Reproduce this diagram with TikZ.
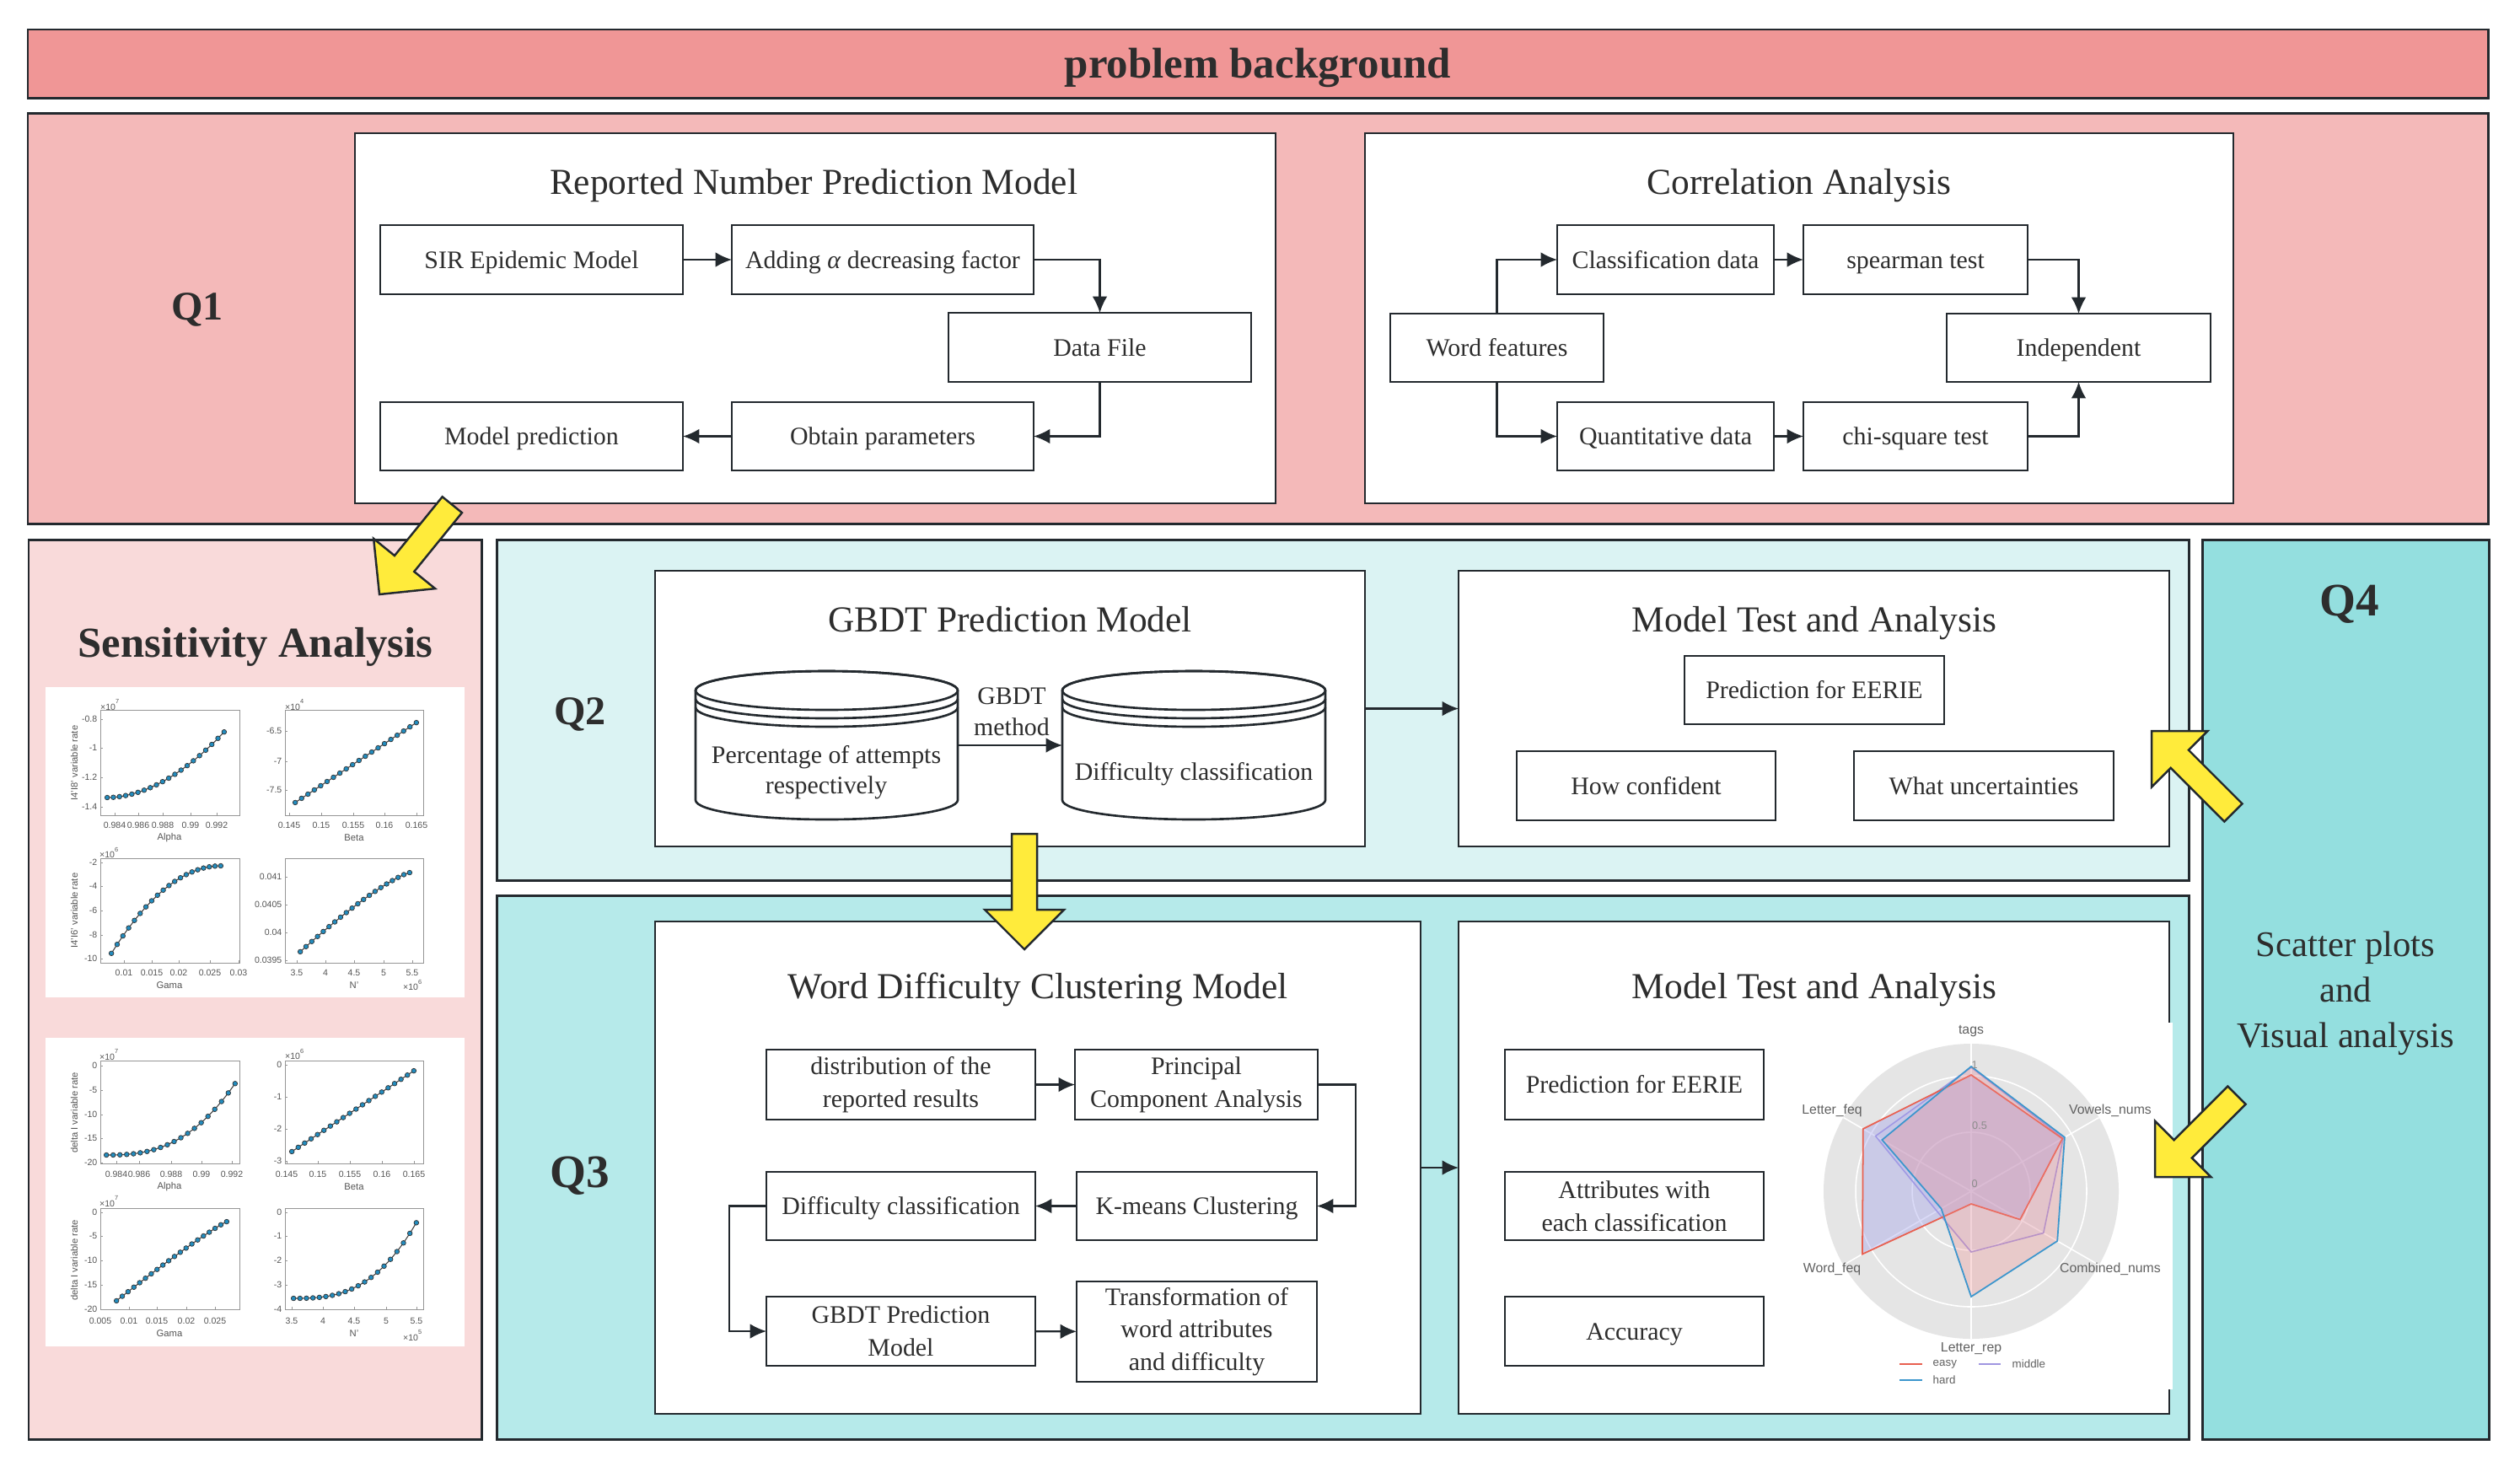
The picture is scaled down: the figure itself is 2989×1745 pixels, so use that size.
\documentclass[tikz,border=0pt]{standalone}
\usepackage{fontspec}
\setmainfont{Liberation Serif}
\setsansfont{Liberation Sans}
\usetikzlibrary{arrows.meta}
\definecolor{bordc}{RGB}{35,41,46}
\definecolor{txtc}{RGB}{45,45,45}
\definecolor{bgtitle}{RGB}{240,150,150}
\definecolor{qonec}{RGB}{244,185,185}
\definecolor{sensc}{RGB}{249,218,218}
\definecolor{qtwoc}{RGB}{219,243,243}
\definecolor{qthreec}{RGB}{182,234,234}
\definecolor{qfourc}{RGB}{148,223,223}
\definecolor{yelc}{RGB}{255,235,59}
\definecolor{radarbg}{RGB}{229,229,229}
\definecolor{easyc}{RGB}{232,96,80}
\definecolor{hardc}{RGB}{60,150,205}
\definecolor{midc}{RGB}{160,150,225}
\definecolor{easyfill}{RGB}{160,160,235}
\definecolor{hardfill}{RGB}{240,140,140}
\definecolor{markc}{RGB}{35,140,190}
\definecolor{axcol}{RGB}{150,150,150}
\definecolor{tkcol}{RGB}{85,85,85}
\newcounter{nc}
\tikzset{
  panel/.style={draw=bordc, line width=0.85pt, inner sep=0pt, outer sep=0pt},
  box/.style={draw=bordc, line width=0.75pt, fill=white, text=txtc, inner sep=0pt, outer sep=0pt, align=center, font=\fontsize{8.5}{11}\selectfont},
  sl/.style={text height=7.57pt, text depth=1.84pt},
  ttl/.style={text=txtc, inner sep=0pt, font=\fontsize{12.35}{15}\selectfont, text height=11pt, text depth=2.67pt},
  qlab/.style={text=txtc, inner sep=0pt, font=\bfseries\fontsize{13.7}{16}\selectfont, text height=12.2pt, text depth=2.96pt},
  qlabb/.style={text=txtc, inner sep=0pt, font=\bfseries\fontsize{15.7}{18}\selectfont, text height=14pt, text depth=3.39pt},
  conn/.style={draw=bordc, line width=0.6pt, -{Latex[length=5.5pt,width=5pt]}},
  yarr/.style={draw=bordc, line width=0.7pt, fill=yelc, line join=miter},
  axc/.style={draw=axcol, line width=0.25pt},
  tkl/.style={text=tkcol, inner sep=0pt, font=\sffamily\fontsize{3}{3.5}\selectfont},
  xl/.style={text=tkcol, inner sep=0pt, font=\sffamily\fontsize{3.2}{3.7}\selectfont},
  dline/.style={draw=black!75, line width=0.3pt},
  rlab/.style={text=black!62, inner sep=0pt, font=\sffamily\fontsize{4.5}{5}\selectfont},
  rtk/.style={text=black!45, inner sep=0pt, font=\sffamily\fontsize{3.6}{4}\selectfont},
  leg/.style={text=black!62, inner sep=0pt, font=\sffamily\fontsize{3.8}{4.2}\selectfont}
}
% rectangle node from corners: style, x1, y1, x2, y2, name, text
\newcommand\rnode[7]{\node[#1, minimum width={(#4-#2)*0.01cm}, minimum height={(#5-#3)*0.01cm}] (#6) at ({(#2+#4)/2},{(#3+#5)/2}) {#7};}
% y tick: x of left axis, y, label
\newcommand\sytk[3]{\stepcounter{nc}\draw[axc] (#1,#2) -- ++(3,0); \node[tkl,anchor=east] (k\arabic{nc}) at ({#1-3},#2) {#3};}
% x tick: x, axis y, label y, label
\newcommand\sxtk[4]{\stepcounter{nc}\draw[axc] (#1,#2) -- ++(0,-3); \node[tkl] (k\arabic{nc}) at (#1,#3) {#4};}
% data: x0 x1 y0 y1 k mode
\newcommand\sdata[6]{%
  \ifnum#6=0
    \draw[dline] plot[domain=0.001:0.999, samples=20, mark=*, mark size=0.8pt, mark options={fill=markc, draw=black!80, line width=0.2pt}] ({#1+(#2-#1)*\x},{#3+(#4-#3)*(\x)^(#5)});
  \else
    \draw[dline] plot[domain=0.001:0.999, samples=20, mark=*, mark size=0.8pt, mark options={fill=markc, draw=black!80, line width=0.2pt}] ({#1+(#2-#1)*\x},{#3+(#4-#3)*(1-(1-\x)^(#5))});
  \fi}
% yellow block arrow: tip x, tip y, unit direction dx, dy (pixel coords, y down)
\newcommand\yarrow[4]{\draw[yarr] (#1,#2) -- ({#1-47*(#3)-47*(#4)},{#2-47*(#4)+47*(#3)}) -- ({#1-47*(#3)-15*(#4)},{#2-47*(#4)+15*(#3)}) -- ({#1-137*(#3)-15*(#4)},{#2-137*(#4)+15*(#3)}) -- ({#1-137*(#3)+15*(#4)},{#2-137*(#4)-15*(#3)}) -- ({#1-47*(#3)+15*(#4)},{#2-47*(#4)-15*(#3)}) -- ({#1-47*(#3)+47*(#4)},{#2-47*(#4)-47*(#3)}) -- cycle;}
% cylinder: left x, right x, top centre y, bottom centre y
\newcommand\cyl[4]{%
  \draw[bordc, line width=0.75pt, fill=white] (#1,#3) -- (#1,#4) arc[start angle=180, end angle=0, x radius={(#2-#1)/2}, y radius=23] -- (#2,#3) arc[start angle=0, end angle=-180, x radius={(#2-#1)/2}, y radius=23] -- cycle;
  \draw[bordc, line width=0.75pt] ({(#1+#2)/2},#3) ellipse[x radius={(#2-#1)/2}, y radius=23];
  \draw[bordc, line width=0.75pt] (#1,{#3+10}) arc[start angle=180, end angle=0, x radius={(#2-#1)/2}, y radius=23];
  \draw[bordc, line width=0.75pt] (#1,{#3+20}) arc[start angle=180, end angle=0, x radius={(#2-#1)/2}, y radius=23];}

\begin{document}
\begin{tikzpicture}[x=0.01cm, y=-0.01cm]
\useasboundingbox (0,0) rectangle (2989,1745);

% ---------- panels ----------
\rnode{panel, fill=bgtitle, text=txtc, font=\bfseries\fontsize{14.5}{17}\selectfont, text height=12.9pt, text depth=3.13pt}{33}{35}{2951}{116}{title}{problem background}
\rnode{panel, fill=qonec}{33}{134}{2951}{621}{qone}{}
\rnode{panel, fill=sensc}{34}{640}{571}{1707}{sens}{}
\rnode{panel, fill=qtwoc}{589}{640}{2596}{1044}{qtwo}{}
\rnode{panel, fill=qthreec}{589}{1062}{2596}{1707}{qthree}{}
\rnode{panel, fill=qfourc}{2612}{640}{2952}{1707}{qfour}{}

\node[qlab] (lq1) at (234,363) {Q1};
\node[qlab] (lq2) at (688,843) {Q2};
\node[qlabb] (lq3) at (688,1390) {Q3};
\node[qlabb] (lq4) at (2787,712) {Q4};
\node[text=txtc, inner sep=0pt, align=center, font=\fontsize{12.15}{15.4}\selectfont] (q4txt) at (2782,1178) {Scatter plots\\and\\Visual analysis};

% ---------- Q1 ----------
\rnode{box, line width=0.8pt}{421}{158}{1513}{597}{rnpm}{}
\rnode{box, line width=0.8pt}{1619}{158}{2649}{597}{corr}{}
\node[ttl] (trnpm) at (965,216) {Reported Number Prediction Model};
\node[ttl] (tcorr) at (2134,216) {Correlation Analysis};

\rnode{box, sl}{451}{267}{810}{349}{sir}{SIR Epidemic Model}
\rnode{box, sl}{868}{267}{1226}{349}{add}{Adding \textit{α} decreasing factor}
\rnode{box, sl}{1125}{371}{1484}{453}{df}{Data File}
\rnode{box, sl}{451}{477}{810}{558}{mp}{Model prediction}
\rnode{box, sl}{868}{477}{1226}{558}{obt}{Obtain parameters}

\rnode{box, sl}{1649}{372}{1902}{453}{wf}{Word features}
\rnode{box, sl}{1847}{267}{2104}{349}{cls}{Classification data}
\rnode{box, sl}{2139}{267}{2405}{349}{sp}{spearman test}
\rnode{box, sl}{1847}{477}{2104}{558}{qd}{Quantitative data}
\rnode{box, sl}{2139}{477}{2405}{558}{chi}{chi-square test}
\rnode{box, sl}{2309}{372}{2622}{453}{ind}{Independent}

\draw[conn] (sir) -- (add);
\draw[conn] (add.east) -| (df.north);
\draw[conn] (df.south) |- (obt.east);
\draw[conn] (obt) -- (mp);
\draw[conn] (wf.north) |- (cls.west);
\draw[conn] (wf.south) |- (qd.west);
\draw[conn] (cls) -- (sp);
\draw[conn] (qd) -- (chi);
\draw[conn] (sp.east) -| (ind.north);
\draw[conn] (chi.east) -| (ind.south);

% ---------- Q2 ----------
\rnode{box, line width=0.8pt}{777}{677}{1619}{1004}{gbdt}{}
\rnode{box, line width=0.8pt}{1730}{677}{2573}{1004}{mttwo}{}
\node[ttl] (tgbdt) at (1198,735) {GBDT Prediction Model};
\node[ttl] (tmttwo) at (2152,735) {Model Test and Analysis};

\cyl{825}{1136}{819}{949}
\cyl{1260}{1572}{819}{949}
\node[text=txtc, inner sep=0pt, align=center, font=\fontsize{8.5}{10.3}\selectfont] (cyla) at (980,916) {Percentage of attempts\\respectively};
\node[text=txtc, inner sep=0pt, font=\fontsize{8.5}{11}\selectfont, sl] (cylb) at (1416,915) {Difficulty classification};
\node[text=txtc, inner sep=0pt, align=center, font=\fontsize{8.5}{10.5}\selectfont] (gm) at (1200,844) {GBDT\\method};
\coordinate (cae) at (1136,884);
\coordinate (cbw) at (1260,884);
\draw[conn] (cae) -- (cbw);

\rnode{box, sl}{1998}{778}{2306}{859}{pe}{Prediction for EERIE}
\rnode{box, sl}{1799}{891}{2106}{973}{hc}{How confident}
\rnode{box, sl}{2199}{891}{2507}{973}{wu}{What uncertainties}
\draw[conn] (gbdt) -- (mttwo);

% ---------- Q3 ----------
\rnode{box, line width=0.8pt}{777}{1093}{1685}{1677}{wd}{}
\rnode{box, line width=0.8pt}{1730}{1093}{2573}{1677}{mtthree}{}
\node[ttl] (twd) at (1231,1170) {Word Difficulty Clustering Model};
\node[ttl] (tmtthree) at (2152,1170) {Model Test and Analysis};

\rnode{box}{909}{1245}{1228}{1328}{dist}{distribution of the\\reported results}
\rnode{box}{1275}{1245}{1563}{1328}{pca}{Principal\\Component Analysis}
\rnode{box, sl}{909}{1390}{1228}{1471}{dc}{Difficulty classification}
\rnode{box, sl}{1277}{1390}{1562}{1471}{km}{K-means Clustering}
\rnode{box}{909}{1538}{1228}{1620}{gp}{GBDT Prediction\\Model}
\rnode{box}{1277}{1520}{1562}{1639}{tr}{Transformation of\\word attributes\\and difficulty}

\draw[conn] (dist) -- (pca);
\draw[conn] (pca.east) -- ++(45,0) |- (km.east);
\draw[conn] (km) -- (dc);
\draw[conn] (dc.west) -- ++(-44,0) |- (gp.west);
\draw[conn] (gp) -- (tr);
\draw[conn] (wd) -- (mtthree);

\rnode{box, sl}{1785}{1245}{2092}{1328}{pe2}{Prediction for EERIE}
\rnode{box}{1785}{1390}{2092}{1471}{att}{Attributes with\\each classification}
\rnode{box, sl}{1785}{1538}{2092}{1620}{acc}{Accuracy}

% radar chart
\fill[white] (2565,1213) rectangle (2577,1648);
\begin{scope}[shift={(2338,1413)}]
  \fill[radarbg] (0,0) circle[radius=175];
  \draw[white, line width=0.45pt] (0,0) circle[radius=70];
  \draw[white, line width=0.45pt] (0,0) circle[radius=137];
  \foreach \a in {-90,-30,30,90,150,210} \draw[white, line width=0.45pt] (0,0) -- (\a:175);
  \filldraw[fill=midc!60, fill opacity=0.2, draw=midc, line width=0.45pt] (-90:147) -- (-30:126) -- (30:99) -- (90:72) -- (150:47) -- (210:131) -- cycle;
  \filldraw[fill=easyfill, fill opacity=0.38, draw=easyc, line width=0.5pt] (-90:138) -- (-30:125) -- (30:67) -- (90:15) -- (150:149) -- (210:148) -- cycle;
  \filldraw[fill=hardfill, fill opacity=0.3, draw=hardc, line width=0.5pt] (-90:148) -- (-30:128) -- (30:118) -- (90:125) -- (150:41) -- (210:122) -- cycle;
\end{scope}
\node[rtk] (r1) at (2342,1263) {1};
\node[rtk] (r05) at (2348,1335) {0.5};
\node[rtk] (r0) at (2342,1404) {0};
\node[rlab] (rtags) at (2338,1223) {tags};
\node[rlab] (rvow) at (2503,1317) {Vowels\_nums};
\node[rlab] (rcomb) at (2503,1505) {Combined\_nums};
\node[rlab] (rrep) at (2338,1600) {Letter\_rep};
\node[rlab] (rword) at (2173,1505) {Word\_feq};
\node[rlab] (rlet) at (2173,1317) {Letter\_feq};
\coordinate (le1) at (2253,1618); \coordinate (le2) at (2280,1618);
\coordinate (lm1) at (2347,1618); \coordinate (lm2) at (2373,1618);
\coordinate (lh1) at (2253,1637); \coordinate (lh2) at (2280,1637);
\draw[easyc, line width=0.6pt] (le1) -- (le2);
\draw[midc, line width=0.6pt] (lm1) -- (lm2);
\draw[hardc, line width=0.6pt] (lh1) -- (lh2);
\node[leg, anchor=west] (leasy) at (2292,1618) {easy};
\node[leg, anchor=west] (lmid) at (2386,1618) {middle};
\node[leg, anchor=west] (lhard) at (2292,1637) {hard};

% ---------- Sensitivity ----------
\node[text=txtc, inner sep=0pt, font=\bfseries\fontsize{14.4}{17}\selectfont, text height=12.83pt, text depth=3.11pt] (tsens) at (303,762) {Sensitivity Analysis};
\fill[white] (54,815) rectangle (551,1183);
\fill[white] (54,1231) rectangle (551,1597);

% A
\draw[axc] (119,842) rectangle (284,967);
\sytk{119}{853}{-0.8}\sytk{119}{887}{-1}\sytk{119}{922}{-1.2}\sytk{119}{957}{-1.4}
\sxtk{136}{967}{979}{0.984}\sxtk{164}{967}{979}{0.986}\sxtk{193}{967}{979}{0.988}\sxtk{226}{967}{979}{0.99}\sxtk{257}{967}{979}{0.992}
\node[tkl] (eA) at (131,836) {×10\textsuperscript{7}};
\node[xl] (lA) at (201,994) {Alpha};
\node[xl, rotate=90] (yA) at (88,905) {I4'I8' variable rate};
\sdata{127}{266}{946}{868}{1.9}{0}
% B
\draw[axc] (338,842) rectangle (502,967);
\sytk{338}{867}{-6.5}\sytk{338}{903}{-7}\sytk{338}{937}{-7.5}
\sxtk{343}{967}{979}{0.145}\sxtk{381}{967}{979}{0.15}\sxtk{419}{967}{979}{0.155}\sxtk{456}{967}{979}{0.16}\sxtk{494}{967}{979}{0.165}
\node[tkl] (eB) at (350,836) {×10\textsuperscript{4}};
\node[xl] (lB) at (420,994) {Beta};
\sdata{350}{494}{952}{857}{1}{0}
% C
\draw[axc] (119,1018) rectangle (284,1142);
\sytk{119}{1023}{-2}\sytk{119}{1051}{-4}\sytk{119}{1080}{-6}\sytk{119}{1109}{-8}\sytk{119}{1137}{-10}
\sxtk{147}{1142}{1154}{0.01}\sxtk{180}{1142}{1154}{0.015}\sxtk{212}{1142}{1154}{0.02}\sxtk{249}{1142}{1154}{0.025}\sxtk{283}{1142}{1154}{0.03}
\node[tkl] (eC) at (130,1011) {×10\textsuperscript{6}};
\node[xl] (lC) at (201,1169) {Gama};
\node[xl, rotate=90] (yC) at (88,1080) {I4'I6' variable rate};
\sdata{132}{262}{1131}{1027}{2}{1}
% D
\draw[axc] (338,1018) rectangle (502,1142);
\sytk{338}{1040}{0.041}\sytk{338}{1073}{0.0405}\sytk{338}{1106}{0.04}\sytk{338}{1139}{0.0395}
\sxtk{352}{1142}{1154}{3.5}\sxtk{386}{1142}{1154}{4}\sxtk{420}{1142}{1154}{4.5}\sxtk{455}{1142}{1154}{5}\sxtk{489}{1142}{1154}{5.5}
\node[tkl] (eD) at (490,1168) {×10\textsuperscript{6}};
\node[xl] (lD) at (420,1169) {N'};
\sdata{356}{486}{1129}{1035}{1.25}{1}
% E
\draw[axc] (119,1258) rectangle (284,1380);
\sytk{119}{1264}{0}\sytk{119}{1293}{-5}\sytk{119}{1322}{-10}\sytk{119}{1350}{-15}\sytk{119}{1379}{-20}
\sxtk{138}{1380}{1393}{0.984}\sxtk{165}{1380}{1393}{0.986}\sxtk{203}{1380}{1393}{0.988}\sxtk{239}{1380}{1393}{0.99}\sxtk{275}{1380}{1393}{0.992}
\node[tkl] (eE) at (130,1251) {×10\textsuperscript{7}};
\node[xl] (lE) at (201,1408) {Alpha};
\node[xl, rotate=90] (yE) at (88,1320) {delta I variable rate};
\sdata{126}{279}{1370}{1285}{2.6}{0}
% F
\draw[axc] (338,1258) rectangle (502,1380);
\sytk{338}{1263}{0}\sytk{338}{1301}{-1}\sytk{338}{1339}{-2}\sytk{338}{1377}{-3}
\sxtk{340}{1380}{1393}{0.145}\sxtk{377}{1380}{1393}{0.15}\sxtk{415}{1380}{1393}{0.155}\sxtk{453}{1380}{1393}{0.16}\sxtk{491}{1380}{1393}{0.165}
\node[tkl] (eF) at (350,1250) {×10\textsuperscript{6}};
\node[xl] (lF) at (420,1408) {Beta};
\sdata{346}{491}{1366}{1270}{1}{0}
% G
\draw[axc] (119,1433) rectangle (284,1553);
\sytk{119}{1438}{0}\sytk{119}{1466}{-5}\sytk{119}{1495}{-10}\sytk{119}{1524}{-15}\sytk{119}{1553}{-20}
\sxtk{119}{1553}{1567}{0.005}\sxtk{153}{1553}{1567}{0.01}\sxtk{186}{1553}{1567}{0.015}\sxtk{221}{1553}{1567}{0.02}\sxtk{255}{1553}{1567}{0.025}
\node[tkl] (eG) at (130,1425) {×10\textsuperscript{7}};
\node[xl] (lG) at (201,1582) {Gama};
\node[xl, rotate=90] (yG) at (88,1495) {delta I variable rate};
\sdata{138}{269}{1543}{1449}{1.1}{1}
% H
\draw[axc] (338,1433) rectangle (502,1553);
\sytk{338}{1438}{0}\sytk{338}{1466}{-1}\sytk{338}{1495}{-2}\sytk{338}{1524}{-3}\sytk{338}{1553}{-4}
\sxtk{346}{1553}{1567}{3.5}\sxtk{383}{1553}{1567}{4}\sxtk{420}{1553}{1567}{4.5}\sxtk{458}{1553}{1567}{5}\sxtk{494}{1553}{1567}{5.5}
\node[tkl] (eH) at (490,1584) {×10\textsuperscript{5}};
\node[xl] (lH) at (420,1582) {N'};
\sdata{348}{494}{1540}{1450}{2.8}{0}

% ---------- yellow block arrows ----------
\yarrow{450}{705}{-0.63}{0.776}
\yarrow{1215}{1126}{0}{1}
\yarrow{2552}{867}{-0.7071}{-0.7071}
\yarrow{2556}{1396}{-0.7071}{0.7071}
\end{tikzpicture}
\end{document}
